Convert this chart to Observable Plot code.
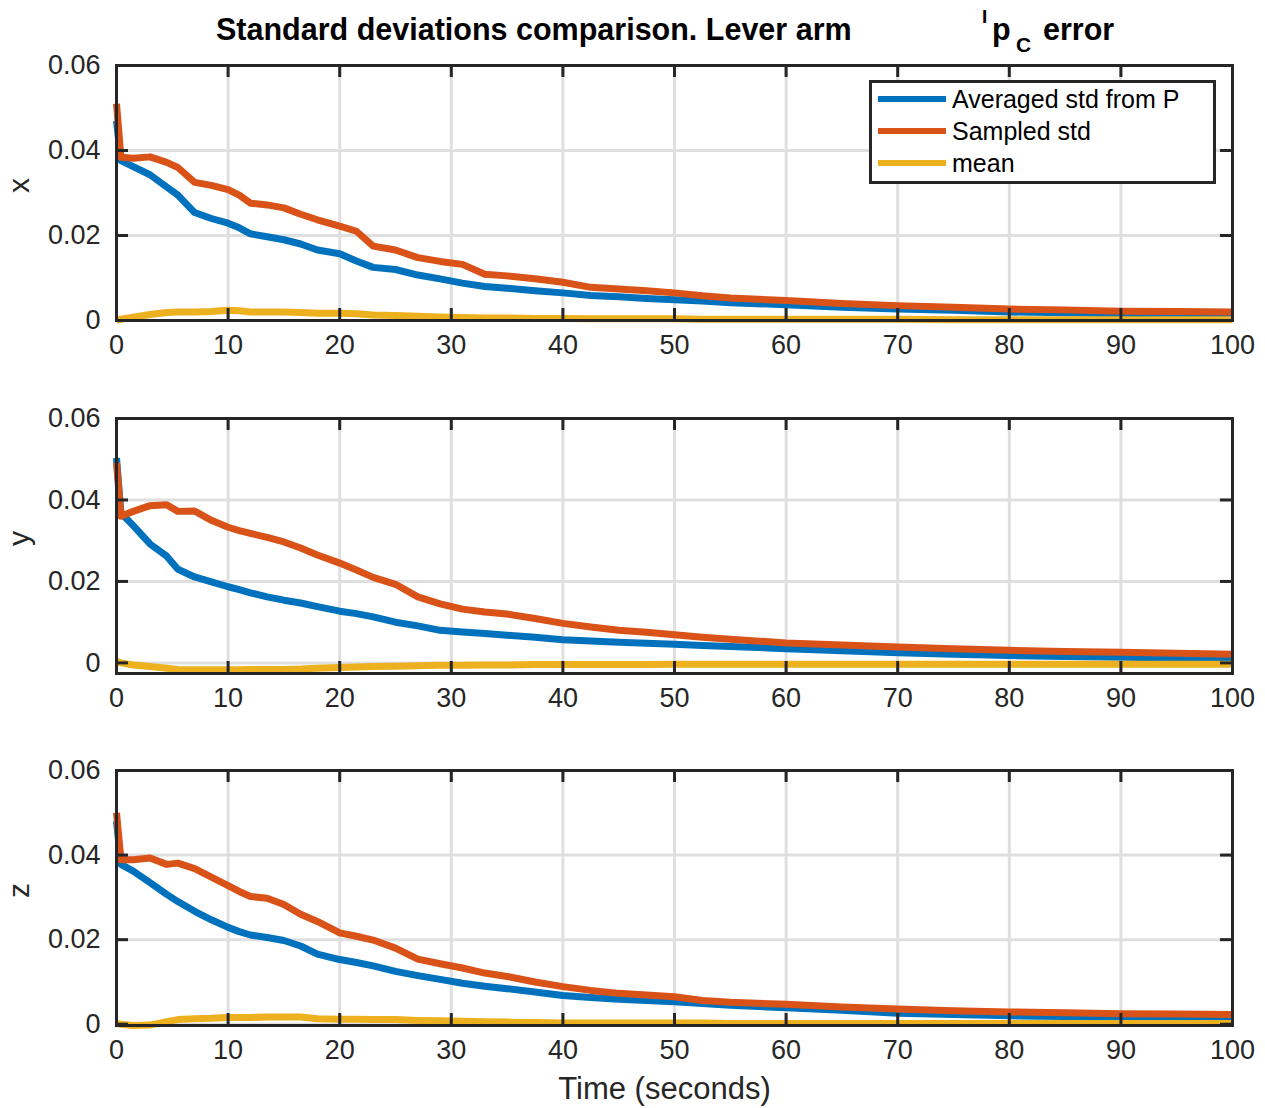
<!DOCTYPE html>
<html>
<head>
<meta charset="utf-8">
<script src="https://cdn.jsdelivr.net/npm/d3@7"></script>
<script src="https://cdn.jsdelivr.net/npm/@observablehq/plot@0.6"></script>
<style>
  body { margin: 0; background: #fff; }
  #fig { position: relative; width: 1265px; height: 1108px; font-family: "Liberation Sans", Arial, Helvetica, sans-serif; color: #262626; }
  .panel { position: absolute; left: 0; }
  #title { position: absolute; left: 0; top: 0; }
  #legend { position: absolute; left: 869px; top: 80px; width: 347px; height: 104px; box-sizing: border-box;
            border: 3px solid #262626; background: #fff; }
  #legend .row { position: absolute; left: 0; height: 30px; }
  #legend .sw { position: absolute; left: 6px; width: 68px; height: 6px; top: 12px; }
  #legend .lab { position: absolute; left: 80px; font-size: 25px; line-height: 30px; color: #000; white-space: nowrap; }
</style>
</head>
<body>
<div id="fig"></div>
<script>
// Time samples (seconds)
const time = [0, 0.4, 1.5, 3, 4.5, 5.5, 7, 8.5, 10, 11, 12, 13.5, 15, 16.5, 18, 20, 21.5, 23, 25, 27,
              29, 31, 33, 35, 37.5, 40, 42.5, 45, 47.5, 50, 52.5, 55, 60, 65, 70, 75, 80, 85, 90, 95, 100];

// x component
const avgStdX = [0.047, 0.0376, 0.0362, 0.0343, 0.0314, 0.0295, 0.0254, 0.0240, 0.0229, 0.0218, 0.0204, 0.0197, 0.0190, 0.0180,
                 0.0166, 0.0157, 0.0140, 0.0125, 0.0120, 0.0107, 0.0098, 0.0088, 0.0080, 0.0076, 0.0070, 0.0065, 0.0059, 0.0056,
                 0.0052, 0.0049, 0.0046, 0.0042, 0.0037, 0.0031, 0.0027, 0.0024, 0.0020, 0.0018, 0.0016, 0.0014, 0.0012];
const sampledStdX = [0.051, 0.0384, 0.0382, 0.0385, 0.0372, 0.0360, 0.0325, 0.0318, 0.0308, 0.0295, 0.0276, 0.0272, 0.0265, 0.0250,
                     0.0237, 0.0222, 0.0210, 0.0175, 0.0166, 0.0148, 0.0139, 0.0132, 0.0109, 0.0105, 0.0098, 0.0090, 0.0078, 0.0074,
                     0.0070, 0.0065, 0.0058, 0.0053, 0.0047, 0.0040, 0.0035, 0.0031, 0.0027, 0.0025, 0.0022, 0.0021, 0.0020];
const meanX = [0.0, 0.0003, 0.0008, 0.0014, 0.0019, 0.0020, 0.0020, 0.0021, 0.0024, 0.0023, 0.0020, 0.0020, 0.0020, 0.0019,
               0.0017, 0.0017, 0.0016, 0.0013, 0.0012, 0.0010, 0.0008, 0.0007, 0.0006, 0.0006, 0.0005, 0.0005, 0.0004, 0.0004,
               0.0004, 0.0004, 0.0003, 0.0003, 0.0003, 0.0003, 0.0003, 0.0002, 0.0002, 0.0002, 0.0002, 0.0002, 0.0002];

// y component
const avgStdY = [0.0503, 0.0368, 0.0337, 0.0292, 0.0262, 0.0230, 0.0211, 0.0199, 0.0187, 0.0180, 0.0172, 0.0162, 0.0154, 0.0147,
                 0.0138, 0.0127, 0.0121, 0.0113, 0.0100, 0.0091, 0.0080, 0.0076, 0.0072, 0.0068, 0.0063, 0.0057, 0.0054, 0.0051,
                 0.0048, 0.0046, 0.0043, 0.0040, 0.0035, 0.0030, 0.0025, 0.0021, 0.0018, 0.0016, 0.0014, 0.0012, 0.0010];
const sampledStdY = [0.0491, 0.0360, 0.0372, 0.0386, 0.0388, 0.0372, 0.0373, 0.0350, 0.0333, 0.0325, 0.0318, 0.0308, 0.0297, 0.0282,
                     0.0265, 0.0245, 0.0228, 0.0210, 0.0193, 0.0162, 0.0145, 0.0132, 0.0125, 0.0120, 0.0109, 0.0097, 0.0088, 0.0080,
                     0.0075, 0.0069, 0.0063, 0.0058, 0.0049, 0.0044, 0.0039, 0.0035, 0.0031, 0.0028, 0.0026, 0.0024, 0.0021];
const meanY = [0.0004, 0.0, -0.0005, -0.0009, -0.0013, -0.0016, -0.0017, -0.0017, -0.0017, -0.0017, -0.0016, -0.0016, -0.0016, -0.0015,
               -0.0013, -0.0011, -0.0010, -0.0009, -0.0008, -0.0007, -0.0006, -0.0006, -0.0005, -0.0005, -0.0004, -0.0004, -0.0004, -0.0004,
               -0.0004, -0.0003, -0.0003, -0.0003, -0.0003, -0.0003, -0.0003, -0.0003, -0.0003, -0.0003, -0.0003, -0.0003, -0.0003];

// z component
const avgStdZ = [0.048, 0.0378, 0.0362, 0.0335, 0.0307, 0.0290, 0.0267, 0.0247, 0.0229, 0.0219, 0.0211, 0.0205, 0.0198, 0.0185,
                 0.0166, 0.0153, 0.0146, 0.0138, 0.0125, 0.0115, 0.0106, 0.0097, 0.0090, 0.0084, 0.0076, 0.0068, 0.0063, 0.0059,
                 0.0056, 0.0053, 0.0049, 0.0045, 0.0039, 0.0033, 0.0026, 0.0023, 0.0020, 0.0018, 0.0016, 0.0014, 0.0012];
const sampledStdZ = [0.0500, 0.0389, 0.0389, 0.0393, 0.0378, 0.0381, 0.0368, 0.0348, 0.0328, 0.0314, 0.0302, 0.0298, 0.0283, 0.0260,
                     0.0243, 0.0216, 0.0208, 0.0199, 0.0180, 0.0154, 0.0143, 0.0133, 0.0121, 0.0113, 0.0100, 0.0089, 0.0080, 0.0073,
                     0.0069, 0.0065, 0.0056, 0.0052, 0.0047, 0.0041, 0.0036, 0.0032, 0.0029, 0.0027, 0.0025, 0.0024, 0.0023];
const meanZ = [0.0002, 0.0, -0.0003, -0.0002, 0.0006, 0.0011, 0.0013, 0.0014, 0.0016, 0.0016, 0.0016, 0.0017, 0.0017, 0.0017,
               0.0013, 0.0012, 0.0012, 0.0011, 0.0011, 0.0009, 0.0008, 0.0007, 0.0006, 0.0005, 0.0004, 0.0003, 0.0003, 0.0003,
               0.0003, 0.0003, 0.0003, 0.0002, 0.0002, 0.0002, 0.0002, 0.0002, 0.0002, 0.0002, 0.0002, 0.0002, 0.0002];

const xTicks = [0, 10, 20, 30, 40, 50, 60, 70, 80, 90, 100];
const yTicks = [0, 0.02, 0.04, 0.06];
const seriesNames = ["Averaged std from P", "Sampled std", "mean"];
const axisNames = ["x", "y", "z"];

// MATLAB default line colours
const seriesColors = ["#0072BD", "#D95319", "#EDB120"];
const ink = "#262626";
const gridColor = "#dfdfdf";

const panels = [
  {name: axisNames[0], series: [avgStdX, sampledStdX, meanX], yDomain: [0, 0.06], top: 45, marginBottom: 50},
  {name: axisNames[1], series: [avgStdY, sampledStdY, meanY], yDomain: [-0.0026, 0.06], top: 398, marginBottom: 50},
  {name: axisNames[2], series: [avgStdZ, sampledStdZ, meanZ], yDomain: [-0.0003, 0.06], top: 750, marginBottom: 83, xLabel: "Time (seconds)"}
];

const fig = document.getElementById("fig");
const W = 1265, mL = 116, mR = 33, mT = 20, plotH = 255, plotW = W - mL - mR, tickLen = 12;
const fontStack = "'Liberation Sans', Arial, Helvetica, sans-serif";

for (const p of panels) {
  const lines = p.series.map((vals, s) => time.map((t, k) => ({t, v: vals[k], s})));
  const marks = [
    Plot.gridX(xTicks, {stroke: gridColor, strokeOpacity: 1, strokeWidth: 3}),
    Plot.gridY(yTicks, {stroke: gridColor, strokeOpacity: 1, strokeWidth: 3}),
    ...lines.map((rows, s) => Plot.line(rows, {x: "t", y: "v", stroke: seriesColors[s], strokeWidth: 7, strokeLinejoin: "round", strokeLinecap: "butt"})),
    // inward tick marks on all four sides
    Plot.ruleX(xTicks, {stroke: ink, strokeWidth: 3, insetTop: plotH - tickLen}),
    Plot.ruleX(xTicks, {stroke: ink, strokeWidth: 3, insetBottom: plotH - tickLen}),
    Plot.ruleY(yTicks, {stroke: ink, strokeWidth: 3, insetRight: plotW - tickLen}),
    Plot.ruleY(yTicks, {stroke: ink, strokeWidth: 3, insetLeft: plotW - tickLen}),
    Plot.frame({stroke: ink, strokeWidth: 3}),
    Plot.axisX(xTicks, {tickSize: 0, tickPadding: 14, fontSize: 27, label: null}),
    Plot.axisY(yTicks, {tickSize: 0, tickPadding: 16, fontSize: 27, label: null,
                        tickFormat: d => d === 0 ? "0" : d.toFixed(2)}),
    Plot.text([p.name], {frameAnchor: "left", dx: -97, rotate: -90, fontSize: 30, fill: ink})
  ];
  if (p.xLabel) {
    marks.push(Plot.text([p.xLabel], {frameAnchor: "bottom", dy: 73, dx: -10, fontSize: 31, fill: ink}));
  }
  const chart = Plot.plot({
    width: W,
    height: mT + plotH + p.marginBottom,
    marginLeft: mL, marginRight: mR, marginTop: mT, marginBottom: p.marginBottom,
    x: {domain: [0, 100], label: null},
    y: {domain: p.yDomain, label: null},
    style: {fontFamily: fontStack, fontSize: "27px", color: ink, background: "transparent", overflow: "visible"},
    marks
  });
  chart.classList.add("panel");
  chart.style.top = p.top + "px";
  fig.appendChild(chart);
}

// Title with super/subscripted symbol
const title = d3.select(fig).append("svg").attr("id", "title").attr("width", W).attr("height", 60)
  .style("font-family", fontStack).style("font-weight", "bold").attr("fill", "#000");
title.append("text").attr("x", 216).attr("y", 40).attr("font-size", 30.5).text("Standard deviations comparison. Lever arm");
title.append("text").attr("x", 982).attr("y", 23).attr("font-size", 19).text("I");
title.append("text").attr("x", 992).attr("y", 40).attr("font-size", 30.5).text("p");
title.append("text").attr("x", 1016).attr("y", 52).attr("font-size", 21).text("C");
title.append("text").attr("x", 1043).attr("y", 40).attr("font-size", 30.5).text("error");

// Legend
const legend = d3.select(fig).append("div").attr("id", "legend");
const rowCenters = [16, 48, 80];
seriesNames.forEach((name, i) => {
  const row = legend.append("div").attr("class", "row").style("top", (rowCenters[i] - 15) + "px").style("width", "340px");
  row.append("div").attr("class", "sw").style("background", seriesColors[i]);
  row.append("div").attr("class", "lab").text(name);
});
</script>
</body>
</html>
